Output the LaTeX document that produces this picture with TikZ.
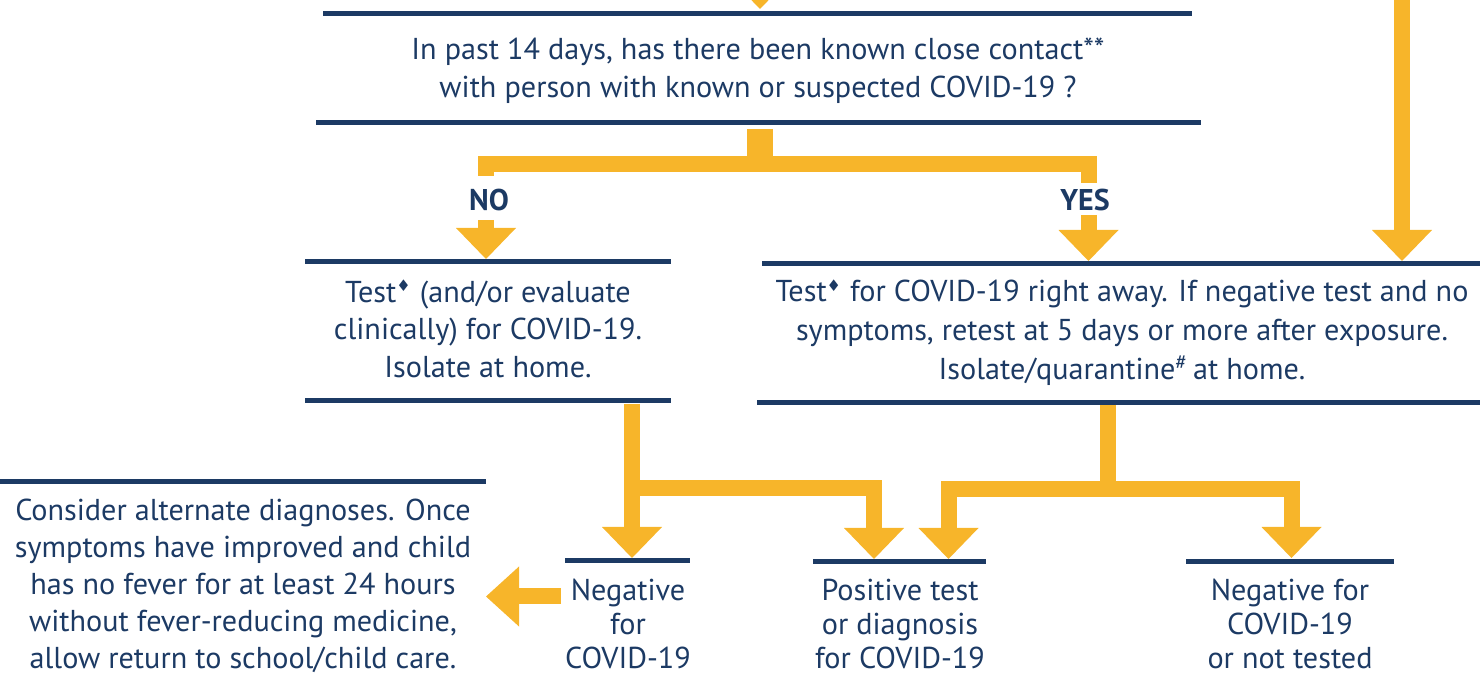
\documentclass[tikz,border=0pt]{standalone}
\usepackage{fontspec}
\setmainfont{PT Sans}
\newfontfamily\djf{DejaVu Sans}
\usetikzlibrary{arrows.meta}
\definecolor{navy}{HTML}{1C3A64}
\definecolor{gold}{HTML}{F7B52A}
\newcommand{\dia}{\textsuperscript{\djf\footnotesize ♦}}
\begin{document}
\begin{tikzpicture}[x=0.5pt,y=-0.5pt,
  rule/.style={draw=navy,line width=2.5pt},
  txt/.style={text=navy,align=center,inner sep=0pt,font=\fontsize{15.1}{19}\selectfont},
  lab/.style={text=navy,inner sep=0pt,font=\fontsize{15}{18}\selectfont\bfseries},
  conn/.style={draw=gold,line width=8pt,line join=miter,line cap=butt},
  arr/.style={conn,-{Triangle[width=30pt,length=15.5pt,line width=0pt]}}
]
\useasboundingbox (0,0) rectangle (1480,684);
% rules
\draw[rule] (323,14) -- (1192,14);
\draw[rule] (316,123) -- (1201,123);
\draw[rule] (305,262) -- (671,262);
\draw[rule] (305,401) -- (671,401);
\draw[rule] (762,264) -- (1480,264);
\draw[rule] (757,403) -- (1480,403);
\draw[rule] (0,482) -- (486,482);
\draw[rule] (565,561) -- (690,561);
\draw[rule] (813,562) -- (986,562);
\draw[rule] (1186,562) -- (1394,562);
% texts
\node[txt] (q) at (758,71) {In past 14 days, has there been known close contact**\\with person with known or suspected COVID-19 ?};
\node[lab] (no) at (489,200) {NO};
\node[lab] (yes) at (1085,200) {YES};
\node[txt,font=\fontsize{15.1}{18.75}\selectfont] (n) at (488,329) {Test\dia{} (and/or evaluate\\clinically) for COVID-19.\\Isolate at home.};
\node[txt,font=\fontsize{15.1}{19.5}\selectfont] (y) at (1122,332.5) {Test\dia{} for COVID-19 right away. If negative test and no\\symptoms, retest at 5 days or more after exposure.\\Isolate/quarantine\textsuperscript{\#}\,at home.};
\node[txt,font=\fontsize{15.1}{18.5}\selectfont] (l) at (243,586) {Consider alternate diagnoses. Once\\symptoms have improved and child\\has no fever for at least 24 hours\\without fever-reducing medicine,\\allow return to school/child care.};
\node[txt,font=\fontsize{15.1}{17}\selectfont] (negl) at (628,624) {Negative\\for\\COVID-19};
\node[txt,font=\fontsize{15.1}{17}\selectfont] (pos) at (900,624) {Positive test\\or diagnosis\\for COVID-19};
\node[txt,font=\fontsize{15.1}{17}\selectfont] (negr) at (1290,624) {Negative for\\COVID-19\\or not tested};
% coordinates
\coordinate (topin) at (760,-40); \coordinate (topend) at (760,9);
\coordinate (rin) at (1402,-10); \coordinate (rend) at (1402,261);
\coordinate (qs) at (760,129); \coordinate (qj) at (760,164);
\coordinate (nos) at (486,176); \coordinate (yess) at (1088.5,183);
\coordinate (noa) at (486,220); \coordinate (noe) at (486,259);
\coordinate (yesa) at (1088.5,215); \coordinate (yese) at (1088.5,261);
\coordinate (ns) at (632,404); \coordinate (ne) at (632,558);
\coordinate (nj) at (632,488.5); \coordinate (pe1) at (874,559);
\coordinate (ys) at (1108,405); \coordinate (yj) at (1108,489);
\coordinate (pe2) at (948.5,559); \coordinate (re) at (1291.5,558);
\coordinate (ls) at (561,596.5); \coordinate (le) at (486,596.5);
% connectors
\draw[arr] (topin) -- (topend);
\draw[arr] (rin) -- (rend);
\draw[conn,line width=13pt] (qs) -- (qj);
\draw[conn] (nos) |- (qj) -| (yess);
\draw[arr] (noa) -- (noe);
\draw[arr] (yesa) -- (yese);
\draw[arr] (ns) -- (ne);
\draw[arr] (nj) -| (pe1);
\draw[conn] (ys) -- (yj);
\draw[arr] (yj) -| (pe2);
\draw[arr] (yj) -| (re);
\draw[arr,-{Triangle[width=30pt,length=16.5pt,line width=0pt]}] (ls) -- (le);
\end{tikzpicture}
\end{document}
